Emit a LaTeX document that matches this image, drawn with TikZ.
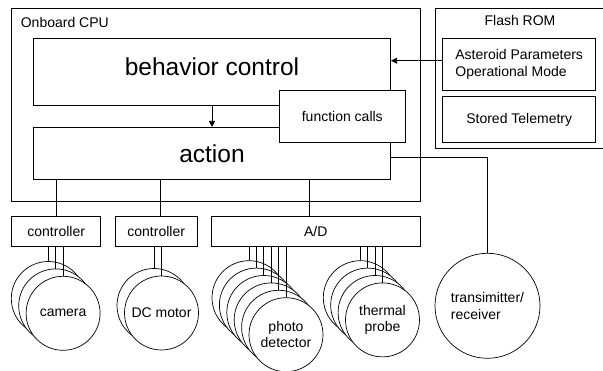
\documentclass[tikz,border=0pt]{standalone}
\usepackage{fontspec}
\setmainfont{Liberation Sans}
\usetikzlibrary{arrows.meta}

\begin{document}
\begin{tikzpicture}[x=1pt, y=-1pt, line width=0.7pt,
    box/.style={draw, fill=white, inner sep=0pt, font=\fontsize{14}{16.5}\selectfont},
    unit/.style={draw, fill=white, circle, minimum size=74pt, inner sep=0pt, align=center, font=\fontsize{14}{16.5}\selectfont},
    big/.style={font=\fontsize{24.5}{28}\selectfont},
    small/.style={font=\fontsize{14}{16.5}\selectfont}]
    \useasboundingbox (0,0) rectangle (603,371);

    % onboard CPU
    \node[box, minimum width=409pt, minimum height=193.4pt] (cpu) at (216.2,105) {};
    \node[small, anchor=west, inner sep=0pt] (cpuname) at (20.5,22.3) {Onboard CPU};
    \node[box, minimum width=357.4pt, minimum height=67pt,
          label={[big, yshift=5pt]center:behavior control}] (behavior) at (212,71.8) {};
    \node[box, big, minimum width=357.4pt, minimum height=52pt] (action) at (212,153.3) {action};
    \node[box, minimum width=126.7pt, minimum height=52.3pt] (fcalls) at (342.3,116.2) {function calls};

    % flash ROM
    \node[box, minimum width=170pt, minimum height=140pt] (flash) at (520,78.3) {};
    \node[small, inner sep=0pt] (flashname) at (520,20.7) {Flash ROM};
    \node[box, align=left, minimum width=153pt, minimum height=51.7pt] (asteroid) at (519.2,64.2) {Asteroid Parameters\\Operational Mode};
    \node[box, minimum width=153pt, minimum height=46pt] (telemetry) at (519.2,119.7) {Stored Telemetry};

    \draw[-{Triangle[length=6pt, width=6pt]}] (behavior) -- (action);
    \draw[-{Triangle[length=6pt, width=6pt]}] ([yshift=3.5pt]asteroid.west) -- ([yshift=3.5pt]asteroid.west -| behavior.east);

    % interfaces
    \node[box, minimum width=89pt, minimum height=30pt] (ctrlA) at (56.2,231) {controller};
    \node[box, minimum width=82.3pt, minimum height=30pt] (ctrlB) at (156.2,231) {controller};
    \node[box, minimum width=208.3pt, minimum height=30pt] (adc) at (315.8,231) {A/D};

    \draw (ctrlA.north) -- (ctrlA.north |- action.south);
    \draw ([xshift=4pt]ctrlB.north) -- ([xshift=4pt]ctrlB.north |- action.south);
    \draw ([xshift=-6.8pt]adc.north) -- ([xshift=-6.8pt]adc.north |- action.south);

    % devices
    \foreach \k in {0,1}
        \node[unit] (cam\k) at (48.3+7.4*\k, 298.5+7.4*\k) {};
    \node[unit] (cam2) at (63.1,313.3) {camera};

    \node[unit] (motor0) at (154,305.5) {};
    \node[unit] (motor1) at (161.5,313) {DC motor};

    \foreach \k in {0,...,4}
        \node[unit] (photo\k) at (249+7.4*\k, 297.7+7.4*\k) {};
    \node[unit] (photo5) at (286,334.7) {photo\\detector};

    \foreach \k in {0,1,2}
        \node[unit] (probe\k) at (360.3+7.4*\k, 297.7+7.4*\k) {};
    \node[unit] (probe3) at (382.5,319.9) {thermal\\probe};

    \node[unit, align=left, minimum size=105pt] (radio) at (487.5,305.8) {transimitter/\\receiver};

    \foreach \k in {0,1,2}
        \draw (cam\k.north) -- (cam\k.north |- ctrlA.south);
    \foreach \k in {0,1}
        \draw (motor\k.north) -- (motor\k.north |- ctrlB.south);
    \foreach \k in {0,...,5}
        \draw (photo\k.north) -- (photo\k.north |- adc.south);
    \foreach \k in {0,...,3}
        \draw (probe\k.north) -- (probe\k.north |- adc.south);

    \draw ([yshift=-4pt]action.east) -| (radio.north);
\end{tikzpicture}
\end{document}
